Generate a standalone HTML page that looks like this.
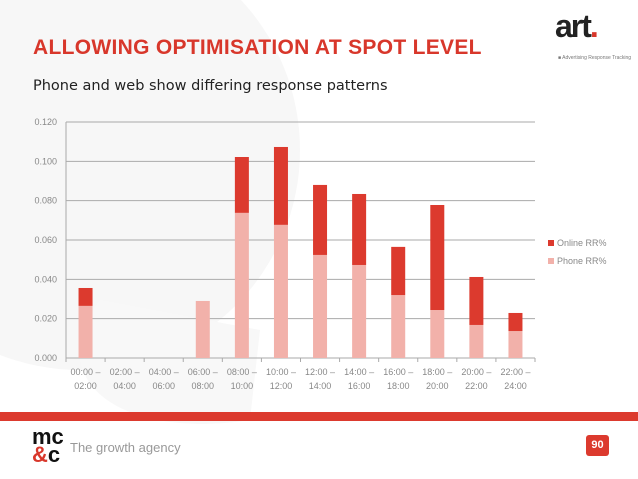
<!DOCTYPE html>
<html><head><meta charset="utf-8"><style>
body{margin:0;width:638px;height:479px;overflow:hidden;background:#fff;font-family:"Liberation Sans","DejaVu Sans",sans-serif;position:relative}
.abs{position:absolute}
</style></head><body>
<svg class="abs" style="left:0;top:0" width="638" height="479">
<circle cx="80" cy="150" r="220" fill="#f7f7f7"/>
<path d="M100 300 C 40 380, 120 440, 250 420 L 260 330 Z" fill="#f8f8f8"/>
</svg>
<div class="abs" style="left:33px;top:36px;font-size:21px;font-weight:bold;color:#d8372b;letter-spacing:0.3px">ALLOWING OPTIMISATION AT SPOT LEVEL</div>
<div class="abs" style="left:33px;top:78px;font-size:14.5px;color:#222;font-family:'DejaVu Sans',sans-serif">Phone and web show differing response patterns</div>
<div class="abs" style="left:555px;top:8px;font-size:32px;font-weight:bold;color:#222;letter-spacing:-2px">art<span style="color:#d8372b">.</span></div>
<div class="abs" style="left:558px;top:55px;font-size:5px;color:#777">■ Advertising Response Tracking</div>
<svg id="chart" class="abs" style="left:0;top:0" width="638" height="479"></svg>
<div class="abs" style="left:0;top:412px;width:638px;height:9px;background:#dc3a2e"></div>
<div class="abs" style="left:32px;top:428px;font-size:22px;font-weight:bold;line-height:18px;color:#111">mc<br><span style="color:#d8372b">&amp;</span>c</div>
<div class="abs" style="left:70px;top:440px;font-size:13px;color:#999">The growth agency</div>
<div class="abs" style="left:586px;top:435px;width:23px;height:21px;background:#dc3a2e;border-radius:3px;color:#fff;font-size:11px;font-weight:bold;text-align:center;line-height:21px">90</div>
<script>
const categories=[["00:00 –","02:00"],["02:00 –","04:00"],["04:00 –","06:00"],["06:00 –","08:00"],["08:00 –","10:00"],["10:00 –","12:00"],["12:00 –","14:00"],["14:00 –","16:00"],["16:00 –","18:00"],["18:00 –","20:00"],["20:00 –","22:00"],["22:00 –","24:00"]];
const phone=[0.0265,0,0,0.029,0.0738,0.0677,0.0524,0.0473,0.032,0.0244,0.0168,0.0137];
const online=[0.0091,0,0,0,0.0284,0.0396,0.0356,0.0361,0.0245,0.0534,0.0244,0.0092];
const yTicks=[0,0.02,0.04,0.06,0.08,0.1,0.12];
const svg=document.getElementById('chart');const NS='http://www.w3.org/2000/svg';
const x0=66,x1=535,yb=358,yt=122,ymax=0.12;
const y=v=>yb-(v/ymax)*(yb-yt);
const bw=(x1-x0)/categories.length;
const xc=i=>x0+bw*(i+0.5);
function mk(t,a){const e=document.createElementNS(NS,t);for(const k in a)e.setAttribute(k,a[k]);svg.appendChild(e);return e;}
yTicks.forEach(v=>{
const g=mk('line',{x1:x0,x2:x1,y1:y(v),y2:y(v),stroke:'#aaa','stroke-width':1});


const t=mk('text',{x:57,y:y(v)+3,'text-anchor':'end','font-size':9,fill:'#888'});t.textContent=v.toFixed(3);


});
const ax=mk('line',{x1:x0,x2:x0,y1:yt,y2:yb,stroke:'#aaa'});


categories.forEach((c,i)=>{
const tk=mk('line',{x1:x0+bw*i,x2:x0+bw*i,y1:yb,y2:yb+4,stroke:'#aaa'});


const p=mk('rect',{x:xc(i)-7,y:y(phone[i]),width:14,height:yb-y(phone[i]),fill:'#f2b1aa'});


const o=mk('rect',{x:xc(i)-7,y:y(phone[i]+online[i]),width:14,height:y(phone[i])-y(phone[i]+online[i]),fill:'#dc3a2e'});


c.forEach((s,j)=>{const t=mk('text',{x:xc(i),y:375+j*14,'text-anchor':'middle','font-size':9,fill:'#888'});t.textContent=s;

});
});
const tk=mk('line',{x1:x1,x2:x1,y1:yb,y2:yb+4,stroke:'#aaa'});


const leg=[['Online RR%','#dc3a2e',244],['Phone RR%','#f2b1aa',262]];
leg.forEach(l=>{
const r=mk('rect',{x:548,y:l[2]-4,width:6,height:6,fill:l[1]});


const t=mk('text',{x:557,y:l[2]+2,'font-size':9,fill:'#888'});t.textContent=l[0];


});
</script>
</body></html>
